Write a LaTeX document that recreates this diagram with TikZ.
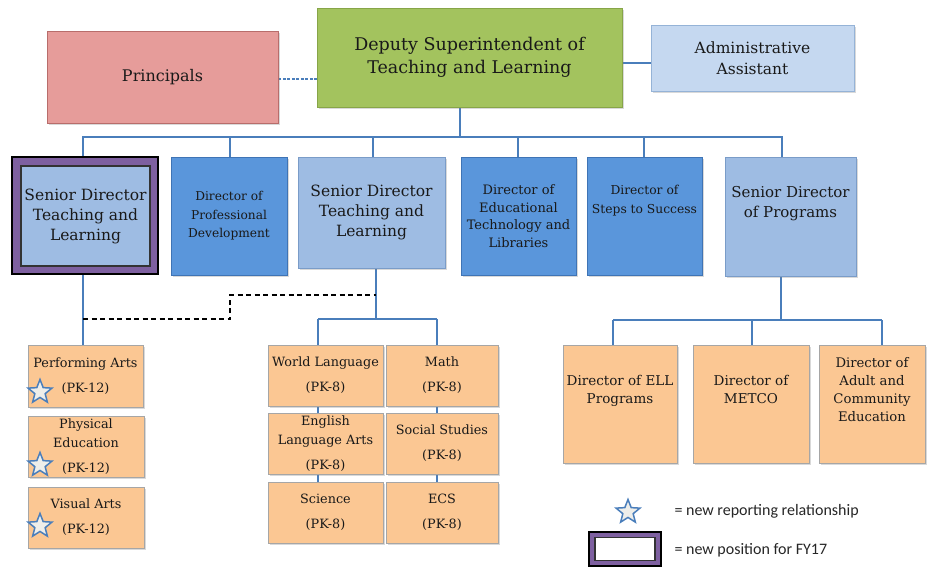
\documentclass[tikz,border=0pt]{standalone}
\usepackage{fontspec}
\setmainfont{DejaVu Serif}
\newfontfamily\legfont{Carlito}
\usetikzlibrary{shapes.geometric,shadows}
\definecolor{prinfill}{HTML}{E69C9A}
\definecolor{prinline}{HTML}{B86D6B}
\definecolor{depfill}{HTML}{A3C35E}
\definecolor{depline}{HTML}{87A548}
\definecolor{admfill}{HTML}{C5D8F0}
\definecolor{admline}{HTML}{95B3D7}
\definecolor{sdfill}{HTML}{9EBCE3}
\definecolor{sdline}{HTML}{7A9CC8}
\definecolor{dirfill}{HTML}{5A96DB}
\definecolor{dirline}{HTML}{3F74B5}
\definecolor{orfill}{HTML}{FBC793}
\definecolor{orline}{HTML}{A6A6A6}
\definecolor{purp}{HTML}{7E60A0}
\definecolor{conn}{HTML}{4A7EBB}
\definecolor{starfill}{HTML}{EEEEEA}
\pgfdeclarelayer{bg}
\pgfsetlayers{bg,main}
\begin{document}
\begin{tikzpicture}[x=1pt,y=-1pt,
  base/.style={rectangle, align=center, inner sep=1pt, line width=0.8pt, text=black!90,
    drop shadow={shadow xshift=2pt, shadow yshift=-2pt, opacity=0.3}},
  prinbox/.style={base, fill=prinfill, draw=prinline},
  depbox/.style={base, fill=depfill, draw=depline},
  admbox/.style={base, fill=admfill, draw=admline},
  sdbox/.style={base, fill=sdfill, draw=sdline},
  dirbox/.style={base, fill=dirfill, draw=dirline},
  orbox/.style={base, fill=orfill, draw=orline},
  newframe/.style={rectangle, fill=purp, draw=black, line width=1.4pt},
  conline/.style={draw=conn, line width=1.4pt},
  dotline/.style={draw=black, line width=1.4pt, dash pattern=on 5pt off 3.5pt},
  bluedash/.style={draw=conn, line width=1.2pt, dash pattern=on 3pt off 1.5pt},
  starmark/.style={star, star points=5, star point ratio=2.3, minimum size=25pt,
    inner sep=0pt, fill=starfill, draw=conn, line width=1.5pt},
  legtext/.style={anchor=west, font=\legfont\fontsize{16}{18}\selectfont, text=black!85}
]
\useasboundingbox (0,0) rectangle (927,566);

% top row
\node[prinbox, minimum width=231pt, minimum height=92pt, font=\fontsize{16}{18}\selectfont] (prin) at (162.5,77) {Principals};
\node[depbox, minimum width=305pt, minimum height=99pt, font=\fontsize{17.5}{23}\selectfont] (dep) at (469.5,57.5) {Deputy Superintendent of\\Teaching and Learning};
\node[admbox, minimum width=203pt, minimum height=66pt, font=\fontsize{15.5}{21}\selectfont] (adm) at (752.5,58) {Administrative\\Assistant};

% second row
\node[newframe, minimum width=146pt, minimum height=117pt] (sdnew) at (85,215.5) {};
\node[rectangle, fill=sdfill, draw=black!80, line width=1.2pt, minimum width=129pt, minimum height=100pt, align=center, inner sep=0pt, text=black!90, font=\fontsize{15.5}{20}\selectfont] (sdnewin) at (85.5,216) {Senior Director\\Teaching and\\Learning};
\node[dirbox, minimum width=116pt, minimum height=118pt, font=\fontsize{12.2}{18.5}\selectfont] (dpd) at (229,216) {Director of\\Professional\\Development};
\node[sdbox, minimum width=147pt, minimum height=111pt, font=\fontsize{15.5}{20}\selectfont] (sd2) at (371.5,212.5) {Senior Director\\Teaching and\\Learning};
\node[dirbox, minimum width=115pt, minimum height=118pt, font=\fontsize{13}{17.5}\selectfont] (det) at (518.5,216) {Director of\\Educational\\Technology and\\Libraries};
\node[dirbox, minimum width=115pt, minimum height=118pt, font=\fontsize{12.3}{19}\selectfont] (dss) at (644.5,216) {Director of\\Steps to Success\\[14pt]};
\node[sdbox, minimum width=131pt, minimum height=119pt, font=\fontsize{15}{20}\selectfont] (sdp) at (790.5,216.5) {Senior Director\\of Programs\\[10pt]};

% left column
\node[orbox, minimum width=115pt, minimum height=62pt, font=\fontsize{12.8}{25}\selectfont] (pa) at (85.5,376) {Performing Arts\\(PK-12)};
\node[orbox, minimum width=116pt, minimum height=61pt, font=\fontsize{12.8}{19}\selectfont] (pe) at (86,446.5) {Physical\\Education\\[6pt](PK-12)};
\node[orbox, minimum width=116pt, minimum height=61pt, font=\fontsize{12.8}{25}\selectfont] (va) at (86,517.5) {Visual Arts\\(PK-12)};
\node[starmark] (st1) at (40,392) {};
\node[starmark] (st2) at (40,465) {};
\node[starmark] (st3) at (40,526) {};

% middle grid
\node[orbox, minimum width=115pt, minimum height=61pt, font=\fontsize{12.8}{25}\selectfont] (wl) at (325.5,375.5) {World Language\\(PK-8)};
\node[orbox, minimum width=112pt, minimum height=61pt, font=\fontsize{12.8}{25}\selectfont] (ma) at (442,375.5) {Math\\(PK-8)};
\node[orbox, minimum width=115pt, minimum height=61pt, font=\fontsize{12.8}{19}\selectfont] (ela) at (325.5,443.5) {English\\Language Arts\\[6pt](PK-8)};
\node[orbox, minimum width=112pt, minimum height=61pt, font=\fontsize{12.8}{25}\selectfont] (ss) at (442,443.5) {Social Studies\\(PK-8)};
\node[orbox, minimum width=115pt, minimum height=61pt, font=\fontsize{12.8}{25}\selectfont] (sci) at (325.5,512.5) {Science\\(PK-8)};
\node[orbox, minimum width=112pt, minimum height=61pt, font=\fontsize{12.8}{25}\selectfont] (ecs) at (442,512.5) {ECS\\(PK-8)};

% programs children
\node[orbox, minimum width=114pt, minimum height=118pt, font=\fontsize{13.5}{18}\selectfont] (ell) at (620,404) {Director of ELL\\Programs\\[12pt]};
\node[orbox, minimum width=116pt, minimum height=118pt, font=\fontsize{13.5}{18}\selectfont] (met) at (751,404) {Director of\\METCO\\[12pt]};
\node[orbox, minimum width=106pt, minimum height=118pt, font=\fontsize{13.2}{18}\selectfont] (adu) at (872,404) {Director of\\Adult and\\Community\\Education\\[12pt]};

% legend
\node[starmark] (legstar) at (628,512) {};
\node[legtext] (leg1) at (671,511) {= new reporting relationship};
\node[newframe, minimum width=72pt, minimum height=34pt] (legbox) at (625,549) {};
\node[rectangle, fill=white, draw=black!80, line width=1.2pt, minimum width=60pt, minimum height=23pt] (legin) at (625,549) {};
\node[legtext] (leg2) at (671,550) {= new position for FY17};

% connectors
\coordinate (bus) at (460,137);
\coordinate (b2) at (376,319);
\coordinate (b2l) at (318,319);
\coordinate (b2r) at (437,319);
\coordinate (b3) at (781,320);
\coordinate (b3l) at (613,320);
\coordinate (b3m) at (752,320);
\coordinate (b3r) at (882,320);
\coordinate (dl) at (83,319);
\coordinate (dk) at (230,295);
\coordinate (dr) at (376,295);
\begin{pgfonlayer}{bg}
\draw[bluedash] ([yshift=-2pt]prin.east) -- ([yshift=-2pt]prin.east -| dep.west);
\draw[conline] ([yshift=-5pt]adm.west) -- ([yshift=-5pt]adm.west -| dep.east);
\draw[conline] ([xshift=-9.5pt]dep.south) -- (bus);
\draw[conline] (83,0 |- sdnew.north) -- (83,0 |- bus) -- (782,0 |- bus) -- (782,0 |- sdp.north);
\foreach \n/\xx in {dpd/230,sd2/373,det/518,dss/644}
  \draw[conline] (\xx,0 |- \n.north) -- (\xx,0 |- bus);
\draw[conline] (83,0 |- sdnew.south) -- (83,0 |- pa.north);
\draw[conline] (376,0 |- sd2.south) -- (b2);
\draw[conline] (b2l) -- (b2r);
\draw[conline] (b2l) -- (b2l |- sci.north);
\draw[conline] (b2r) -- (b2r |- ecs.north);
\draw[conline] (b3 |- sdp.south) -- (b3);
\draw[conline] (b3l) -- (b3r);
\draw[conline] (b3l) -- (b3l |- ell.north);
\draw[conline] (b3m) -- (b3m |- met.north);
\draw[conline] (b3r) -- (b3r |- adu.north);
\end{pgfonlayer}
\draw[dotline] (dl) -| (dk) -- (dr);
\end{tikzpicture}
\end{document}
